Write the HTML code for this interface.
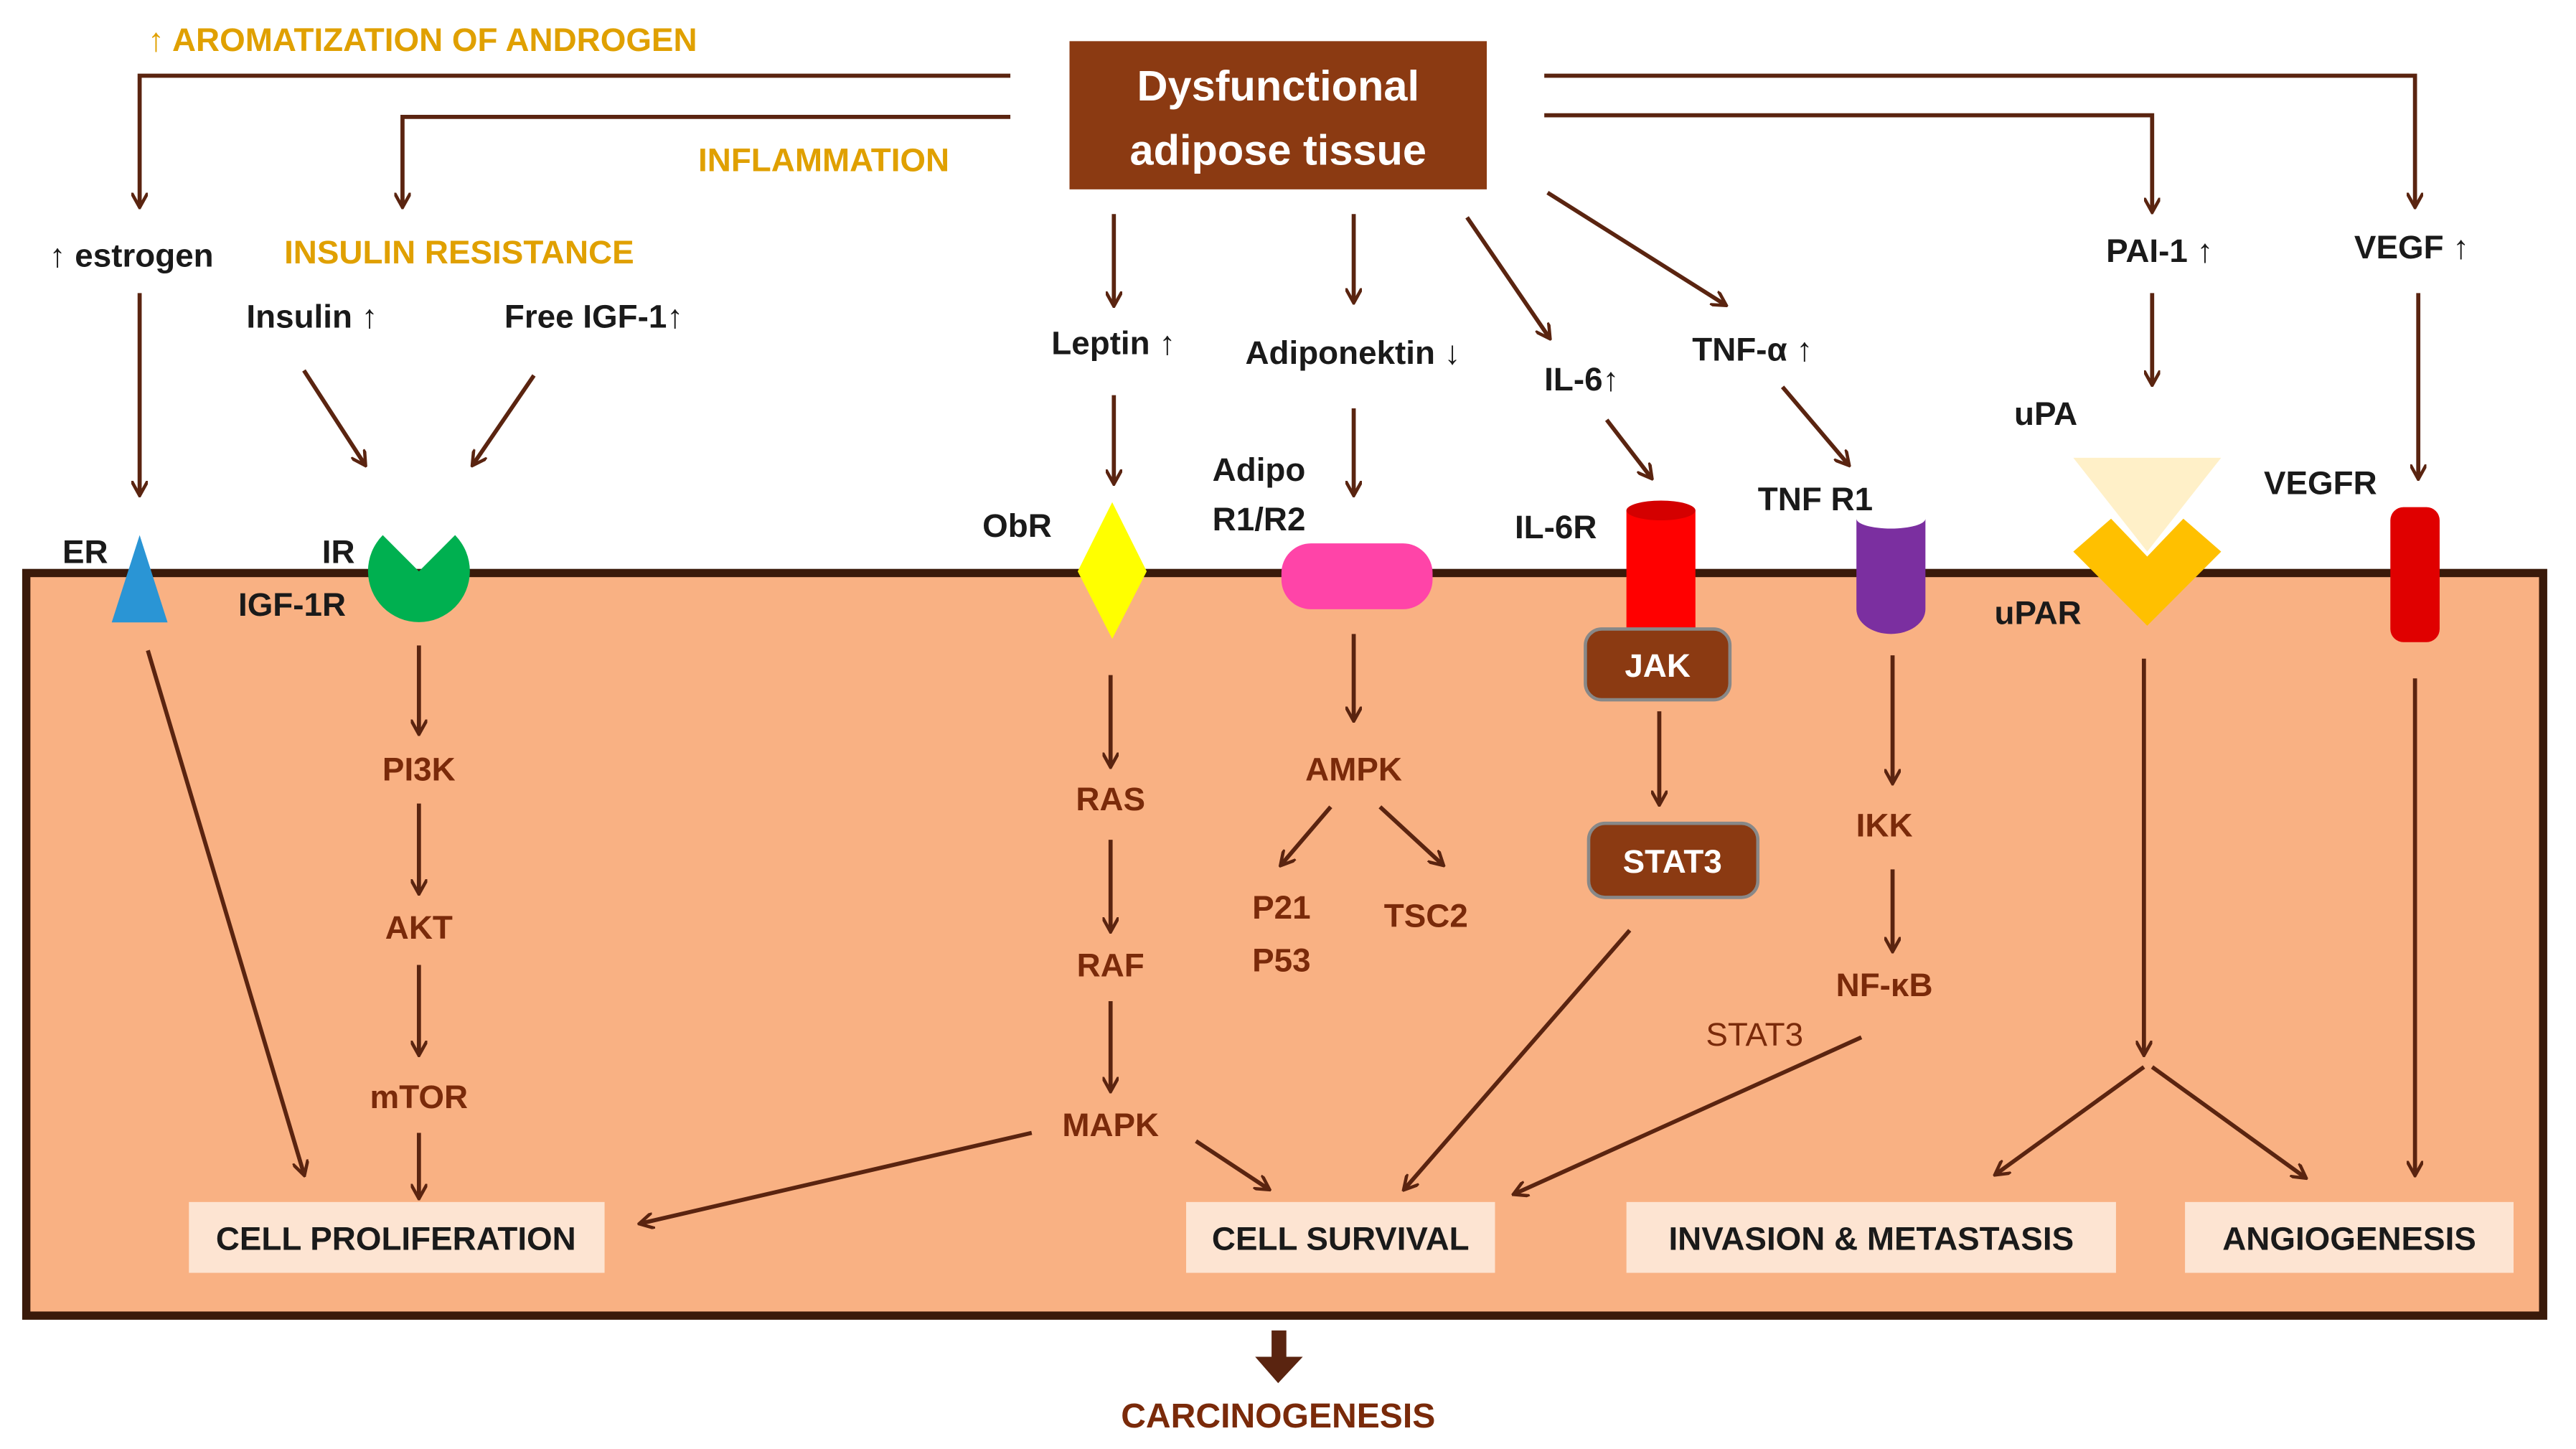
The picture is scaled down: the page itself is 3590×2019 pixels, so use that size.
<!DOCTYPE html>
<html><head><meta charset="utf-8"><style>
html,body{margin:0;padding:0;background:#fff;}
svg{display:block;}
text{font-family:"Liberation Sans",sans-serif;font-weight:bold;}
</style></head><body>
<svg width="3590" height="2019" viewBox="0 0 1568 880" preserveAspectRatio="none" xmlns="http://www.w3.org/2000/svg">
<defs>
<marker id="a" markerWidth="10" markerHeight="10" refX="8" refY="5" orient="auto" markerUnits="userSpaceOnUse"><path d="M0,0 L9,5 L0,10" fill="none" stroke="#5a2410" stroke-width="2"/></marker>
</defs>
<rect x="0" y="0" width="1568" height="880" fill="#fff"/>
<rect x="16" y="348" width="1532" height="451" fill="#F9B183" stroke="#3a1a0a" stroke-width="5"/>
<rect x="651" y="25" width="254" height="90" fill="#8B3A12"/>
<text x="778" y="61" fill="#fff" font-size="26" text-anchor="middle">Dysfunctional</text>
<text x="778" y="100" fill="#fff" font-size="26" text-anchor="middle">adipose tissue</text>

<g stroke="#5a2410" stroke-width="2.5" fill="none" marker-end="url(#a)">
<path d="M615,46 H85 V125"/>
<path d="M615,71 H245 V125"/>
<path d="M940,46 H1470 V125"/>
<path d="M940,70 H1310 V128"/>
<path d="M678,130 V185"/>
<path d="M824,130 V183"/>
<path d="M893,132 L943,205"/>
<path d="M942,117 L1050,185"/>
<path d="M85,178 V300"/>
<path d="M185,225 L222,282"/>
<path d="M325,228 L288,282"/>
<path d="M678,240 V293"/>
<path d="M824,248 V300"/>
<path d="M978,255 L1005,290"/>
<path d="M1085,235 L1125,282"/>
<path d="M1310,178 V233"/>
<path d="M1472,178 V290"/>
<path d="M255,392 V445"/>
<path d="M255,488 V542"/>
<path d="M255,586 V640"/>
<path d="M255,688 V727"/>
<path d="M676,410 V465"/>
<path d="M676,510 V565"/>
<path d="M676,608 V662"/>
<path d="M824,385 V437"/>
<path d="M810,490 L780,525"/>
<path d="M840,490 L878,525"/>
<path d="M1010,432 V488"/>
<path d="M1152,398 V475"/>
<path d="M1152,528 V577"/>
<path d="M1305,400 V640"/>
<path d="M1305,648 L1215,713"/>
<path d="M1310,648 L1403,715"/>
<path d="M1470,412 V713"/>
<path d="M90,395 L185,713"/>
<path d="M628,688 L390,743"/>
<path d="M728,693 L772,722"/>
<path d="M992,565 L855,722"/>
<path d="M1133,630 L922,725"/>
</g>

<g fill="#E0A000" font-size="20">
<text x="90" y="31">↑ AROMATIZATION OF ANDROGEN</text>
<text x="425" y="104">INFLAMMATION</text>
<text x="173" y="160">INSULIN RESISTANCE</text>
</g>
<g fill="#1a1a1a" font-size="20">
<text x="30" y="162">↑ estrogen</text>
<text x="150" y="199">Insulin ↑</text>
<text x="307" y="199">Free IGF-1↑</text>
<text x="640" y="215">Leptin ↑</text>
<text x="758" y="221">Adiponektin ↓</text>
<text x="940" y="237">IL-6↑</text>
<text x="1030" y="219">TNF-α ↑</text>
<text x="1282" y="159">PAI-1 ↑</text>
<text x="1433" y="157">VEGF ↑</text>
<text x="38" y="342">ER</text>
<text x="196" y="342">IR</text>
<text x="145" y="374">IGF-1R</text>
<text x="598" y="326">ObR</text>
<text x="738" y="292">Adipo</text>
<text x="738" y="322">R1/R2</text>
<text x="922" y="327">IL-6R</text>
<text x="1070" y="310">TNF R1</text>
<text x="1226" y="258">uPA</text>
<text x="1378" y="300">VEGFR</text>
<text x="1214" y="379">uPAR</text>
</g>

<polygon points="85,325 102,378 68,378" fill="#2a95d5"/>
<path d="M255,347 L233,325 A31,31 0 1,0 277,325 Z" fill="#00b050"/>
<polygon points="677,305 698,347 677,388 656,347" fill="#ffff00"/>
<rect x="780" y="330" width="92" height="40" rx="18" fill="#ff44a8"/>
<rect x="990" y="310" width="42" height="75" fill="#ff0000"/>
<ellipse cx="1011" cy="310" rx="21" ry="6" fill="#d40000"/>
<path d="M1130,315 V370 A21,15 0 0,0 1172,370 V315 A21,6 0 0,1 1130,315 Z" fill="#7b2fa0"/>
<polygon points="1262,278 1352,278 1307,335" fill="#fff0c8"/>
<polygon points="1262,335 1285,315 1307,338 1329,315 1352,335 1307,380" fill="#ffc000"/>
<rect x="1455" y="308" width="30" height="82" rx="8" fill="#e00000"/>

<rect x="965" y="382" width="88" height="43" rx="10" fill="#8B3A12" stroke="#888" stroke-width="2"/>
<text x="1009" y="411" fill="#fff" font-size="20" text-anchor="middle">JAK</text>
<rect x="967" y="500" width="103" height="45" rx="10" fill="#8B3A12" stroke="#888" stroke-width="2"/>
<text x="1018" y="530" fill="#fff" font-size="20" text-anchor="middle">STAT3</text>

<g fill="#7a2a0a" font-size="20" text-anchor="middle">
<text x="255" y="474">PI3K</text>
<text x="255" y="570">AKT</text>
<text x="255" y="673">mTOR</text>
<text x="676" y="492">RAS</text>
<text x="676" y="593">RAF</text>
<text x="676" y="690">MAPK</text>
<text x="824" y="474">AMPK</text>
<text x="780" y="558">P21</text>
<text x="780" y="590">P53</text>
<text x="868" y="563">TSC2</text>
<text x="1147" y="508">IKK</text>
<text x="1147" y="605">NF-κB</text>
<text x="1068" y="635" style="font-weight:normal">STAT3</text>
</g>

<g fill="#fde4d2">
<rect x="115" y="730" width="253" height="43"/>
<rect x="722" y="730" width="188" height="43"/>
<rect x="990" y="730" width="298" height="43"/>
<rect x="1330" y="730" width="200" height="43"/>
</g>
<g fill="#1a1a1a" font-size="20" text-anchor="middle">
<text x="241" y="759">CELL PROLIFERATION</text>
<text x="816" y="759">CELL SURVIVAL</text>
<text x="1139" y="759">INVASION &amp; METASTASIS</text>
<text x="1430" y="759">ANGIOGENESIS</text>
</g>

<rect x="774" y="808" width="9" height="18" fill="#5a2410"/>
<polygon points="764,824 793,824 778,840" fill="#5a2410"/>
<text x="778" y="867" fill="#7a2a0a" font-size="21" text-anchor="middle">CARCINOGENESIS</text>
</svg>
</body></html>
